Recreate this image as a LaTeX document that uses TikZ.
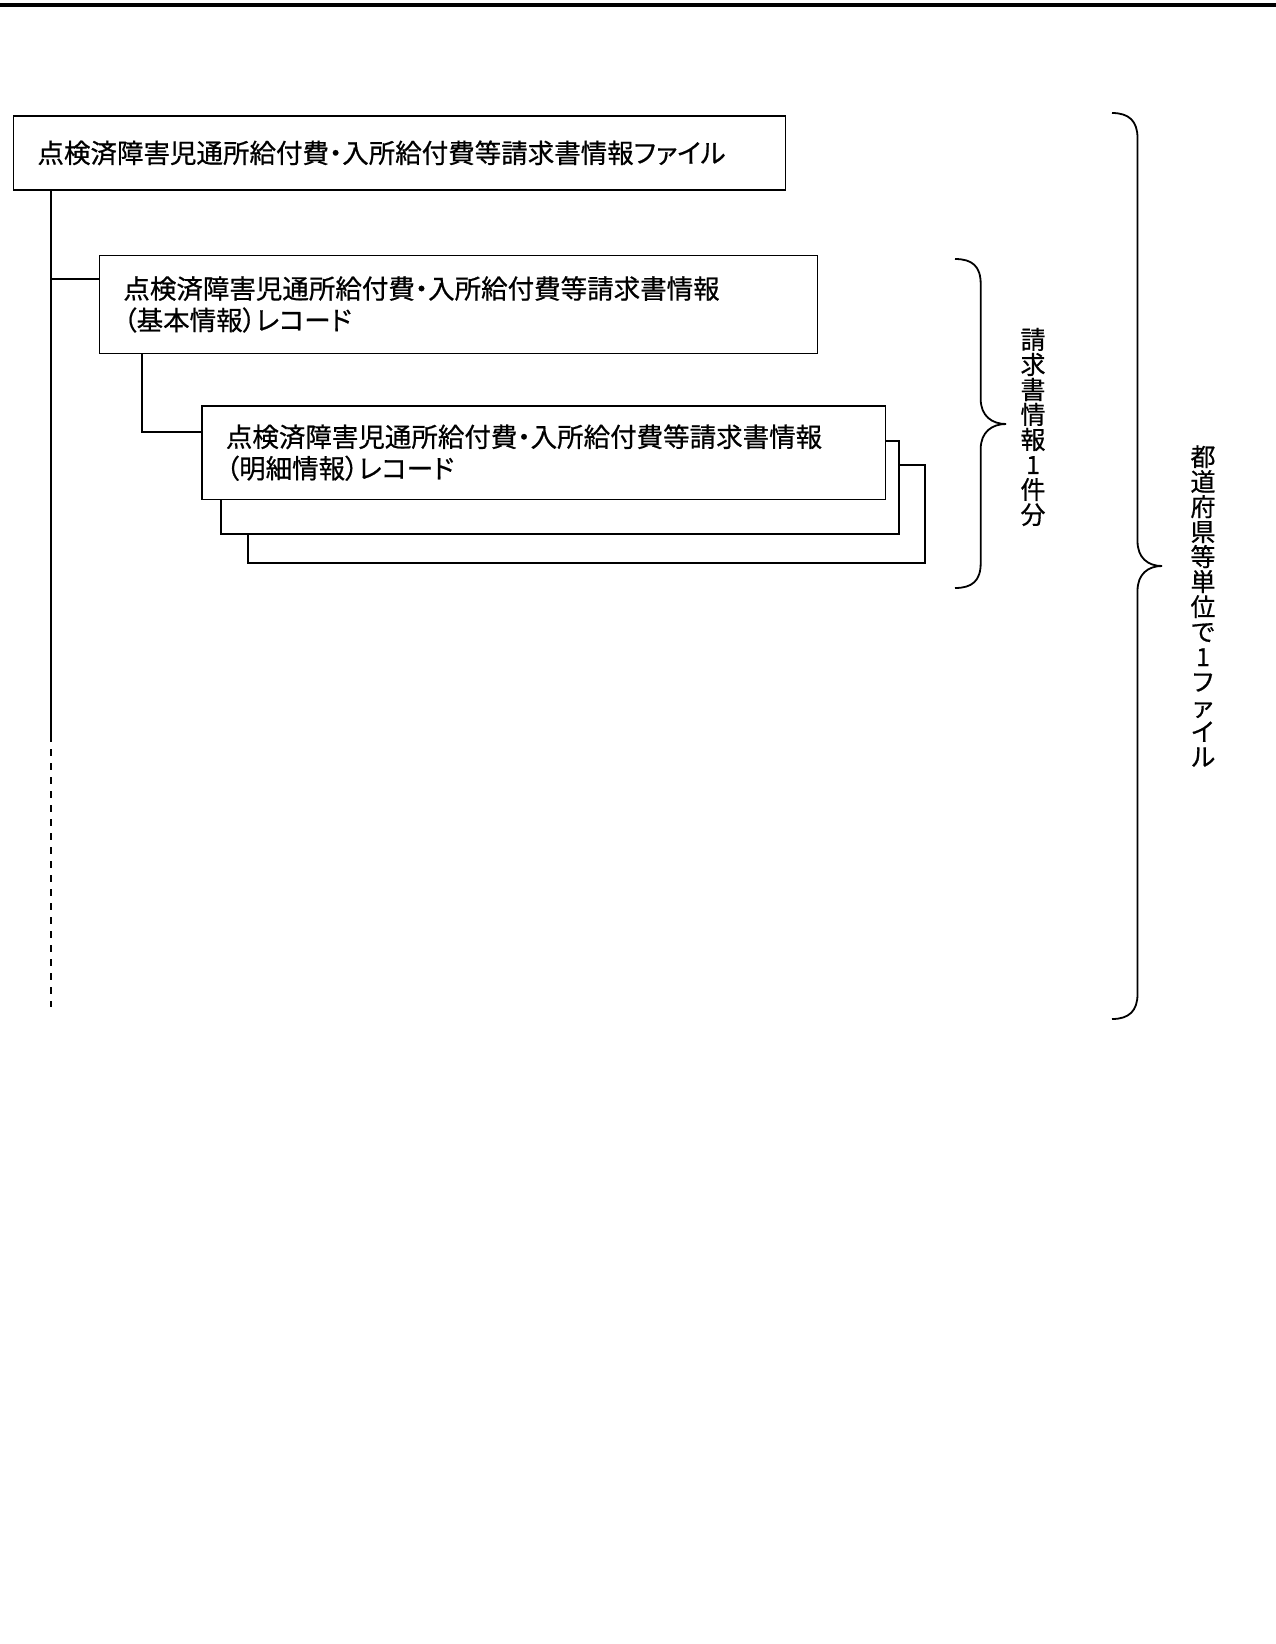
\documentclass[tikz,border=0pt]{standalone}
\usepackage{fontspec}
\newfontfamily\jp{Noto Sans CJK JP}[RawFeature=+palt, FakeBold=0.6]
\newfontfamily\jpv{Noto Sans CJK JP}[FakeBold=0.6]
\begin{document}
\begin{tikzpicture}[x=1pt,y=-1pt,
  recbox/.style={draw, line width=1.8pt, fill=white, anchor=north west,
    inner xsep=24pt, inner ysep=0pt, align=left},
  shadowbox/.style={draw, line width=1.8pt, fill=white, anchor=north west, inner sep=0pt},
  conn/.style={line width=1.8pt},
  bracepath/.style={line width=1.8pt},
  vtext/.style={align=center, inner sep=0pt, font=\jpv\fontsize{25pt}{25pt}\selectfont}
]
\fill[white] (0,0) rectangle (1276,1644);
\useasboundingbox (0,0) rectangle (1276,1644);

% top rule
\coordinate (tl) at (0,5);
\coordinate (tr) at (1276,5);
\draw[line width=3.5pt] (tl) -- (tr);

% file box
\node[recbox, text width=724pt, minimum height=74pt,
  font=\jp\fontsize{26.5pt}{32pt}\selectfont] (b1) at (12.6,115)
  {点検済障害児通所給付費・入所給付費等請求書情報ファイル};

% basic record box
\node[recbox, text width=670pt, minimum height=98pt,
  font=\jp\fontsize{26.5pt}{31.5pt}\selectfont] (b2) at (98.5,254.5)
  {点検済障害児通所給付費・入所給付費等請求書情報\\（基本情報）レコード};

% detail record boxes (stacked)
\node[shadowbox, minimum width=677pt, minimum height=97.7pt] (s3) at (247,464.3) {};
\node[shadowbox, minimum width=677.6pt, minimum height=93pt] (s2) at (220.4,440) {};
\node[recbox, text width=635.5pt, minimum height=93.5pt,
  font=\jp\fontsize{26.5pt}{31.5pt}\selectfont] (b3) at (201,405)
  {点検済障害児通所給付費・入所給付費等請求書情報\\（明細情報）レコード};

% main vertical line
\path (b1.south west) ++(38.4,0) coordinate (vtop);
\coordinate (vsolid) at (51,742);
\coordinate (vend) at (51,1007);
\draw[conn] (vtop) -- (vsolid);
\draw[conn, dash pattern=on 7pt off 7pt, dash phase=7pt] (vsolid) -- (vend);

% branch to basic record
\coordinate (j1) at (51,279);
\draw[conn] (j1) -- (j1 -| b2.west);

% branch to detail record
\path (b2.south west) ++(43.5,0) coordinate (j2top);
\coordinate (j2) at (142,432);
\draw[conn] (j2top) -- (j2) -- (j2 -| b3.west);

% small brace
\draw[bracepath] (955,259) .. controls (972,259) and (980.7,266) .. (980.7,284)
  -- (980.7,399) .. controls (980.7,416) and (992,424) .. (1006,424)
  .. controls (992,424) and (980.7,432) .. (980.7,449)
  -- (980.7,563) .. controls (980.7,581) and (972,588) .. (955,588);
\node[vtext] (t1) at (1033,427) {請\\求\\書\\情\\報\\1\\件\\分};

% big brace
\draw[bracepath] (1112,113) .. controls (1129,113) and (1137.5,121) .. (1137.5,138)
  -- (1137.5,541) .. controls (1137.5,558) and (1148,566) .. (1162,566)
  .. controls (1148,566) and (1137.5,574) .. (1137.5,591)
  -- (1137.5,994) .. controls (1137.5,1011) and (1129,1019) .. (1112,1019);
\node[vtext] (t2) at (1203,606) {都\\道\\府\\県\\等\\単\\位\\で\\1\\フ\\ァ\\イ\\ル};
\end{tikzpicture}
\end{document}
